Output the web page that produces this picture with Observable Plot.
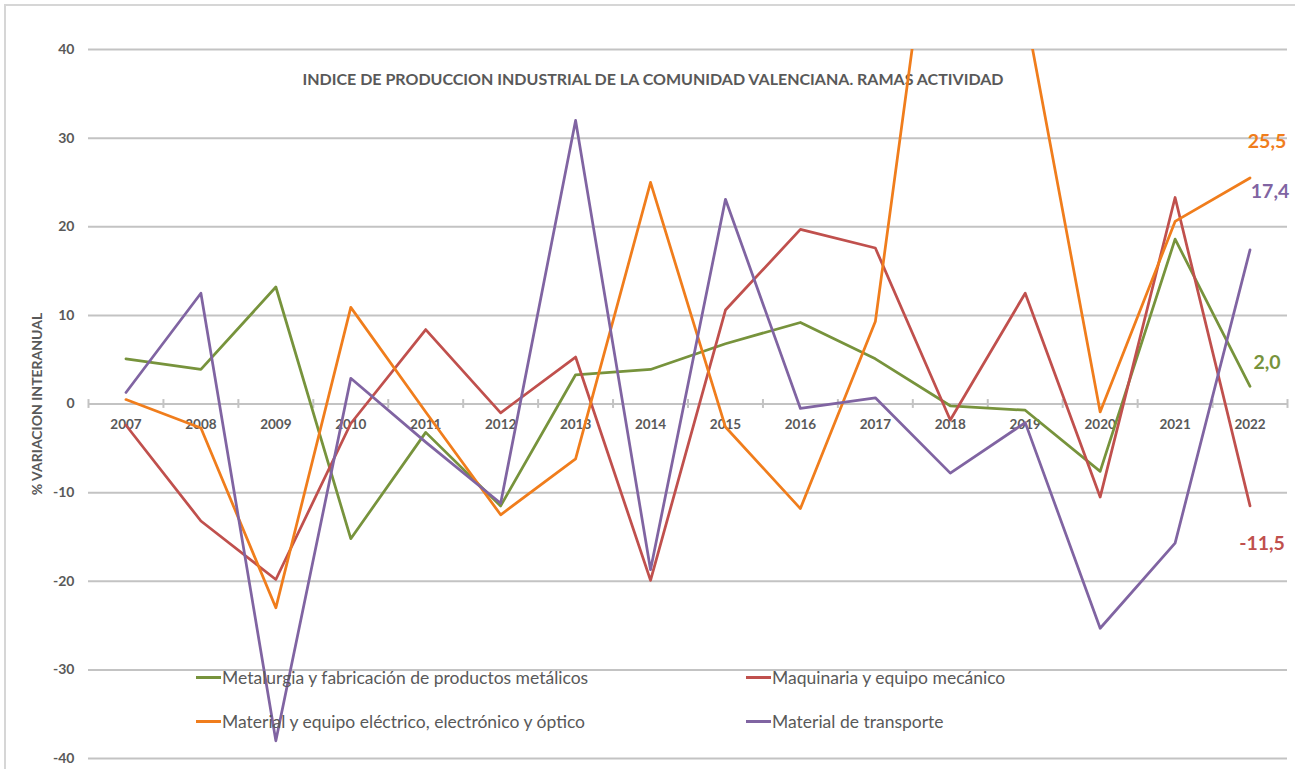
<!DOCTYPE html>
<html>
<head>
<meta charset="utf-8">
<script src="https://cdn.jsdelivr.net/npm/d3@7"></script>
<script src="https://cdn.jsdelivr.net/npm/@observablehq/plot@0.6"></script>
<style>
  html, body { margin: 0; padding: 0; background: #fff; }
  #wrap { position: relative; width: 1295px; height: 769px; overflow: hidden; font-family: Lato, "Open Sans", sans-serif; }
  #border { position: absolute; left: 4px; top: 4px; width: 1400px; height: 900px; border-left: 2px solid #d6d6d6; border-top: 2px solid #d6d6d6; pointer-events: none; }
  .leg { position: absolute; display: flex; align-items: center; font-size: 17.5px; color: #595959; white-space: nowrap; }
  .leg .sw { width: 25px; height: 3px; margin-right: 1px; }
</style>
</head>
<body>
<div id="wrap"><div id="border"></div></div>
<script>
const title = "INDICE DE PRODUCCION INDUSTRIAL DE LA COMUNIDAD VALENCIANA. RAMAS ACTIVIDAD";
const yLabel = "% VARIACION INTERANUAL";
const years = [2007, 2008, 2009, 2010, 2011, 2012, 2013, 2014, 2015, 2016, 2017, 2018, 2019, 2020, 2021, 2022];
const seriesNames = [
  "Metalurgia y fabricación de productos metálicos",
  "Maquinaria y equipo mecánico",
  "Material y equipo eléctrico, electrónico y óptico",
  "Material de transporte"
];
const seriesColors = ["#77933c", "#c0504d", "#f07d1c", "#8064a2"];
const metalurgia = [5.1, 3.9, 13.2, -15.2, -3.2, -11.5, 3.3, 3.9, 6.8, 9.2, 5.1, -0.2, -0.7, -7.6, 18.6, 2.0];
const maquinaria = [-2.4, -13.2, -19.8, -2.2, 8.4, -1.0, 5.3, -19.9, 10.6, 19.7, 17.6, -1.8, 12.5, -10.5, 23.3, -11.5];
const electrico = [0.5, -2.7, -23.0, 10.9, -0.9, -12.5, -6.2, 25.0, -2.6, -11.8, 9.3, 72.0, 44.5, -0.9, 20.6, 25.5];
const transporte = [1.3, 12.5, -38.0, 2.9, -4.3, -11.2, 32.0, -18.7, 23.1, -0.5, 0.7, -7.8, -2.1, -25.3, -15.7, 17.4];
const yTicks = [-40, -30, -20, -10, 0, 10, 20, 30, 40];
// end-of-series value labels (Spanish decimal comma), with hand-placed offsets as in the original
const endLabels = [
  {series: 2, text: "25,5", dx: 17, dy: -41},
  {series: 3, text: "17,4", dx: 20, dy: -63},
  {series: 0, text: "2,0", dx: 17, dy: -29},
  {series: 1, text: "-11,5", dx: 12, dy: 33}
];

const seriesValues = [metalurgia, maquinaria, electrico, transporte];
const rows = [];
seriesValues.forEach((vals, i) => vals.forEach((v, j) => rows.push({year: years[j], value: v, series: seriesNames[i]})));
const lastYear = years[years.length - 1];
const labelRows = endLabels.map(d => ({...d, year: lastYear, value: seriesValues[d.series][years.length - 1], color: seriesColors[d.series]}));
const bandEdges = years.map(y => y - 0.5).concat([lastYear + 0.5]);

const gray = "#595959";
const font = "Lato, 'Open Sans', sans-serif";

const chart = Plot.plot({
  width: 1295,
  height: 769,
  marginLeft: 88,
  marginRight: 8,
  marginTop: 49,
  marginBottom: 11,
  style: {fontFamily: font, background: "transparent"},
  x: {type: "linear", domain: [years[0] - 0.5, lastYear + 0.5], axis: null},
  y: {domain: [-40, 40], axis: null},
  color: {domain: seriesNames, range: seriesColors},
  marks: [
    Plot.ruleY(yTicks, {y: d => d, stroke: "#c3c3c3", strokeWidth: 2}),
    Plot.ruleX(bandEdges, {x: d => d, y1: -0.5, y2: 0.5, stroke: "#c3c3c3", strokeWidth: 2}),
    Plot.axisY({ticks: yTicks, tickSize: 0, tickPadding: 14, label: null, fontSize: 14, fontWeight: "bold", fill: gray, tickFormat: d => String(d)}),
    Plot.text(years, {x: d => d, y: 0, dy: 21, text: d => String(d), fontSize: 13.5, fontWeight: "bold", fill: gray}),
    Plot.text([yLabel], {frameAnchor: "left", textAnchor: "middle", rotate: -90, dx: -51, text: d => d, fontSize: 14, fontWeight: "bold", fill: gray}),
    Plot.text([title], {frameAnchor: "top", dx: -35, dy: 24, text: d => d, fontSize: 16, fontWeight: "bold", fill: gray}),
    Plot.lineY(rows, {x: "year", y: "value", z: "series", stroke: "series", strokeWidth: 2.75, clip: true}),
    Plot.text(labelRows, {x: "year", y: "value", text: "text", fill: "color", fontSize: 19.5, fontWeight: "bold"})
  ]
});

// apply per-label offsets (hand placement in the source)
const wrap = document.getElementById("wrap");
wrap.insertBefore(chart, wrap.firstChild);
const labelTexts = chart.querySelectorAll("g[aria-label='text']");
const endG = labelTexts[labelTexts.length - 1];
endG.querySelectorAll("text").forEach((t, i) => {
  const d = labelRows[i];
  t.setAttribute("dx", d.dx);
  t.setAttribute("dy", d.dy);
  t.setAttribute("dominant-baseline", "middle");
});

// legend
const legendPos = [[196, 677], [746, 677], [196, 721], [746, 721]];
seriesNames.forEach((name, i) => {
  const el = document.createElement("div");
  el.className = "leg";
  el.style.left = legendPos[i][0] + "px";
  el.style.top = (legendPos[i][1] - 10) + "px";
  el.style.height = "20px";
  el.innerHTML = `<span class="sw" style="background:${seriesColors[i]}"></span><span>${name}</span>`;
  wrap.appendChild(el);
});
</script>
</body>
</html>
